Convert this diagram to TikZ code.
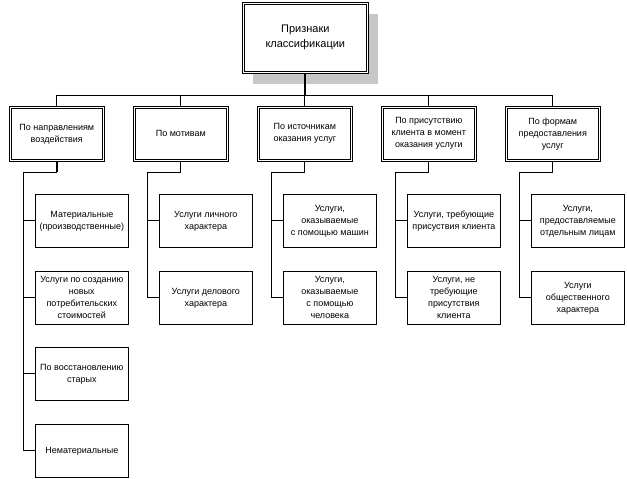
\documentclass[tikz,border=0pt]{standalone}
\usepackage{fontspec}
\setmainfont{Liberation Sans}
\begin{document}
\begin{tikzpicture}[x=1pt,y=-1pt,
  topbox/.style={draw, double, double distance=1.6pt, line width=0.6pt, fill=white, minimum width=124pt, minimum height=69pt, anchor=north west, align=center, inner sep=1pt, font=\fontsize{11}{15}\selectfont},
  catbox/.style={draw, double, double distance=1.5pt, line width=0.6pt, fill=white, minimum width=93pt, minimum height=53pt, anchor=north west, align=center, inner sep=1pt, font=\fontsize{9}{12}\selectfont},
  itembox/.style={draw, line width=0.7pt, fill=white, minimum width=93pt, minimum height=53pt, anchor=north west, align=center, inner sep=1pt, font=\fontsize{9}{12}\selectfont},
  conn/.style={line width=0.8pt},
  thickconn/.style={line width=1.8pt}
]
\useasboundingbox (0,0) rectangle (627,479);
% top
\fill[black!22] (253,14) rectangle (378,84);
\node[topbox] (top) at (243,3) {Признаки\\классификации};
% categories
\node[catbox] (ca) at (10,107)  {По направлениям\\воздействия};
\node[catbox] (cb) at (134,107) {По мотивам};
\node[catbox] (cc) at (258,107) {По источникам\\оказания услуг};
\node[catbox] (cd) at (382,107) {По присутствию\\клиента в момент\\оказания услуги};
\node[catbox] (ce) at (506,107) {По формам\\предоставления\\услуг};
% items col 1
\node[itembox] (a1) at (35,194) {Материальные\\(производственные)};
\node[itembox] (a2) at (35,271) {Услуги по созданию\\новых\\потребительских\\стоимостей};
\node[itembox] (a3) at (35,347) {По восстановлению\\старых};
\node[itembox] (a4) at (35,424) {Нематериальные};
% col 2
\node[itembox] (b1) at (159,194) {Услуги личного\\характера};
\node[itembox] (b2) at (159,271) {Услуги делового\\характера};
% col 3
\node[itembox] (c1) at (283,194) {Услуги,\\оказываемые\\с помощью машин};
\node[itembox] (c2) at (283,271) {Услуги,\\оказываемые\\с помощью\\человека};
% col 4
\node[itembox] (d1) at (407,194) {Услуги, требующие\\присуствия клиента};
\node[itembox] (d2) at (407,271) {Услуги, не\\требующие\\присутствия\\клиента};
% col 5
\node[itembox] (e1) at (531,194) {Услуги,\\предоставляемые\\отдельным лицам};
\node[itembox] (e2) at (531,271) {Услуги\\общественного\\характера};
% bus
\coordinate (bus) at (305,95);
\draw[thickconn] (top.south) -- (top.south |- bus);
\draw[conn] (ca.north) -- (ca.north |- bus) -- (ce.north |- bus) -- (ce.north);
\draw[conn] (cb.north) -- (cb.north |- bus);
\draw[conn] (cc.north) -- (cc.north |- bus);
\draw[conn] (cd.north) -- (cd.north |- bus);
% column joints
\coordinate (ja) at (23,172);
\coordinate (jb) at (147,172);
\coordinate (jc) at (271,172);
\coordinate (jd) at (395,172);
\coordinate (je) at (519,172);
\draw[thickconn] (ca.south) -- (ca.south |- ja);
\draw[conn] (ca.south |- ja) -- (ja) |- (a4.west);
\draw[conn] (ja |- a1.west) -- (a1.west);
\draw[conn] (ja |- a2.west) -- (a2.west);
\draw[conn] (ja |- a3.west) -- (a3.west);
\draw[conn] (cb.south) |- (jb) |- (b2.west);
\draw[conn] (jb |- b1.west) -- (b1.west);
\draw[conn] (cc.south) |- (jc) |- (c2.west);
\draw[conn] (jc |- c1.west) -- (c1.west);
\draw[conn] (cd.south) |- (jd) |- (d2.west);
\draw[conn] (jd |- d1.west) -- (d1.west);
\draw[conn] (ce.south) |- (je) |- (e2.west);
\draw[conn] (je |- e1.west) -- (e1.west);
\end{tikzpicture}
\end{document}
